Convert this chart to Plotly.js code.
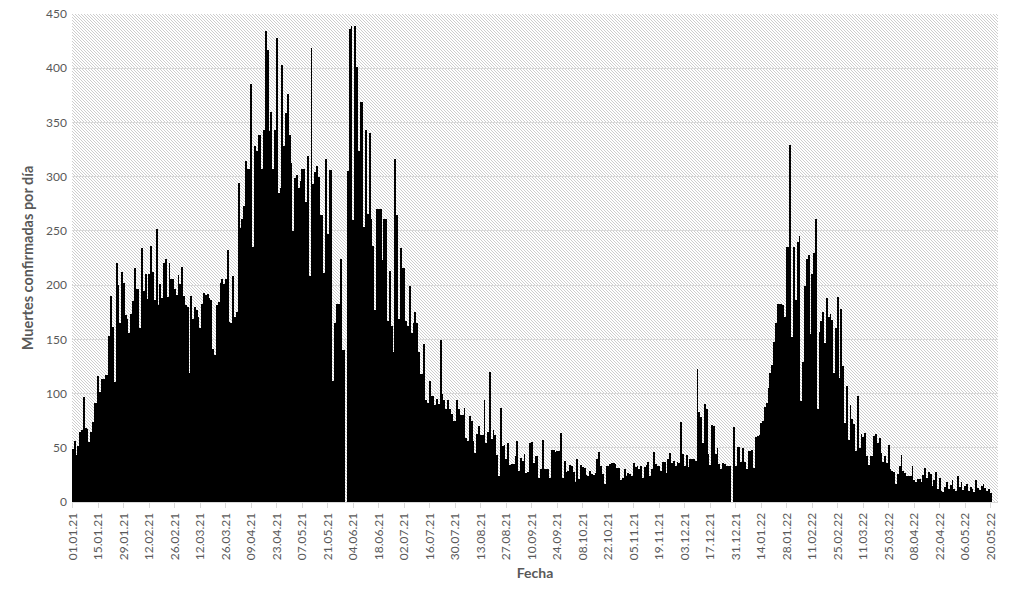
<!DOCTYPE html>
<html><head><meta charset="utf-8">
<script src="https://cdn.plot.ly/plotly-3.0.1.min.js"></script>
<style>
html,body{margin:0;padding:0;background:#fff;}
#wrap{position:relative;width:1013px;height:597px;background:#fff;}
#hatch{position:absolute;background-repeat:repeat;}
#chart{position:absolute;left:0;top:0;width:1013px;height:597px;}
</style></head>
<body><div id="wrap"><div id="hatch"></div><div id="chart"></div></div>
<script>
// Daily confirmed deaths, starting 01.01.2021, one value per day
const startDate = '2021-01-01';
const deaths_2021_01_01 = [49,56,43,52,65,66,97,68,67,55,65,74,91,91,116,101,113,113,117,117,153,190,161,111,220,200,165,212,202,172,169,156,173,185,216,196,196,160,234,195,210];
const deaths_2021_02_11 = [187,210,236,212,186,252,182,201,188,220,224,189,220,206,206,196,191,209,201,217,190,182,180,119,190,169,180,177,171,160,183,193,191,192,188,186,141,136,182,184,202,206];
const deaths_2021_03_25 = [201,206,232,166,165,208,171,175,294,253,261,273,314,307,307,385,235,328,324,338,338,307,343,434,417,342,360,307,343,428,285,290,403,328,359,376,338,313,250,299,302,290,296];
const deaths_2021_05_07 = [307,307,277,319,208,419,293,304,310,300,265,265,211,316,247,306,306,112,165,183,183,224,140,140,0,305,436,439,260,439,401,324,369,369,254,343,266,340,261,236,177,270,270];
const deaths_2021_06_19 = [270,223,261,261,167,213,162,138,316,265,169,234,216,216,167,162,199,156,165,175,165,138,118,118,146,94,91,112,98,98,89,95,90,149,100,94,86,94,86,81,75,75,94];
const deaths_2021_08_01 = [86,80,80,87,59,56,79,75,56,45,63,70,62,62,94,54,65,120,58,66,62,43,24,87,52,53,40,54,34,35,35,42,56,29,41,38,44,27,28,54,55,36,42];
const deaths_2021_09_13 = [42,22,30,57,30,30,30,22,48,48,46,47,47,64,22,38,28,29,34,33,28,18,40,21,34,32,31,25,24,29,26,25,27,40,46,33,26,17,33,33,35,36,36];
const deaths_2021_10_26 = [35,31,31,20,22,30,24,27,26,24,36,32,33,30,33,22,32,34,37,24,30,46,35,33,33,29,37,37,27,40,45,36,38,33,37,36,74,44,33,43,32,40,40];
const deaths_2021_12_08 = [40,38,123,83,78,54,90,86,44,34,71,70,44,50,35,30,36,35,33,33,33,0,69,33,51,51,37,50,37,30,47,47,48,31,60,61,62,73,75,88,91,105,119];
const deaths_2022_01_20 = [126,148,165,183,183,183,182,171,235,235,329,152,235,186,240,245,93,129,199,224,228,155,210,230,261];
const deaths_2022_02_14 = [86,157,167,175,147,188,171,173,168,119,160,189,114,178,125,73,107,57,89];
const deaths_2022_03_05 = [77,72,47,98,50,63,60,64,42,34,42,42,61,63,54,59,45,37,42,36,53,30,29,28,17,26,33,43,29,27,24,24,24,33,20,18,21,21,18,25,31,22,28];
const deaths_2022_04_17 = [26,15,20,28,12,22,10,9,14,18,12,16,20,12,10,24,14,18,11,15,17,10,14,12,9,20,13,11,15,17,13,10,12,8];

const yTitle = 'Muertes confirmadas por día';
const xTitle = 'Fecha';

const deaths = [].concat(deaths_2021_01_01, deaths_2021_02_11, deaths_2021_03_25, deaths_2021_05_07,
  deaths_2021_06_19, deaths_2021_08_01, deaths_2021_09_13, deaths_2021_10_26, deaths_2021_12_08,
  deaths_2022_01_20, deaths_2022_02_14, deaths_2022_03_05, deaths_2022_04_17);

const DAY = 86400000;
const t0 = Date.UTC(2021, 0, 1);
function iso(ms){ const d = new Date(ms); return d.toISOString().slice(0,19).replace('T',' '); }
const dates = deaths.map((_, i) => iso(t0 + i*DAY));

const M = {l:72, r:15, t:14, b:95};
const W = 1013, H = 597;

// crisp 1px diagonal hatch tile ("\" direction), drawn on a tiny canvas
(function(){
  const P = 3, c = document.createElement('canvas');
  c.width = P; c.height = P;
  const g = c.getContext('2d');
  g.fillStyle = '#ffffff'; g.fillRect(0, 0, P, P);
  g.fillStyle = '#cdcdcd';
  for (let i = 0; i < P; i++) g.fillRect(i, i, 1, 1);
  const hatch = document.getElementById('hatch');
  hatch.style.backgroundImage = 'url(' + c.toDataURL() + ')';
  hatch.style.left = M.l + 'px'; hatch.style.top = M.t + 'px';
  hatch.style.width = (W - M.l - M.r) + 'px'; hatch.style.height = (H - M.t - M.b) + 'px';
})();

const FONT = 'Lato, "Open Sans", sans-serif';
const GRAY = '#595959';

Plotly.newPlot('chart', [{
  type: 'bar', x: dates, y: deaths,
  marker: {color: '#000000', line: {width: 0}},
  hoverinfo: 'x+y'
}], {
  width: W, height: H, margin: M,
  paper_bgcolor: 'rgba(0,0,0,0)', plot_bgcolor: 'rgba(0,0,0,0)',
  bargap: 0, showlegend: false,
  font: {family: FONT, color: GRAY},
  xaxis: {
    type: 'date',
    range: [iso(t0 - 0.5*DAY), iso(t0 + 508*DAY)],
    tick0: '2021-01-01', dtick: 14*DAY, tickformat: '%d.%m.%y',
    tickangle: -90, tickfont: {family: FONT, size: 12, color: GRAY},
    ticks: 'outside', ticklen: 5, tickcolor: '#d9d9d9',
    showline: true, linecolor: '#d9d9d9', linewidth: 1,
    showgrid: false, zeroline: false,
    title: {text: xTitle, font: {family: FONT, size: 14, color: GRAY, weight: 'bold'}, standoff: 8}
  },
  yaxis: {
    range: [0, 450], dtick: 50, tick0: 0,
    showgrid: true, gridcolor: '#d9d9d9', gridwidth: 1,
    zeroline: false, showline: false, ticks: '',
    tickfont: {family: FONT, size: 12, color: GRAY}, ticklabelstandoff: 4,
    title: {text: yTitle, font: {family: FONT, size: 14.5, color: GRAY, weight: 'bold'}, standoff: 9}
  }
}, {staticPlot: true, displayModeBar: false});
</script>
</body></html>
